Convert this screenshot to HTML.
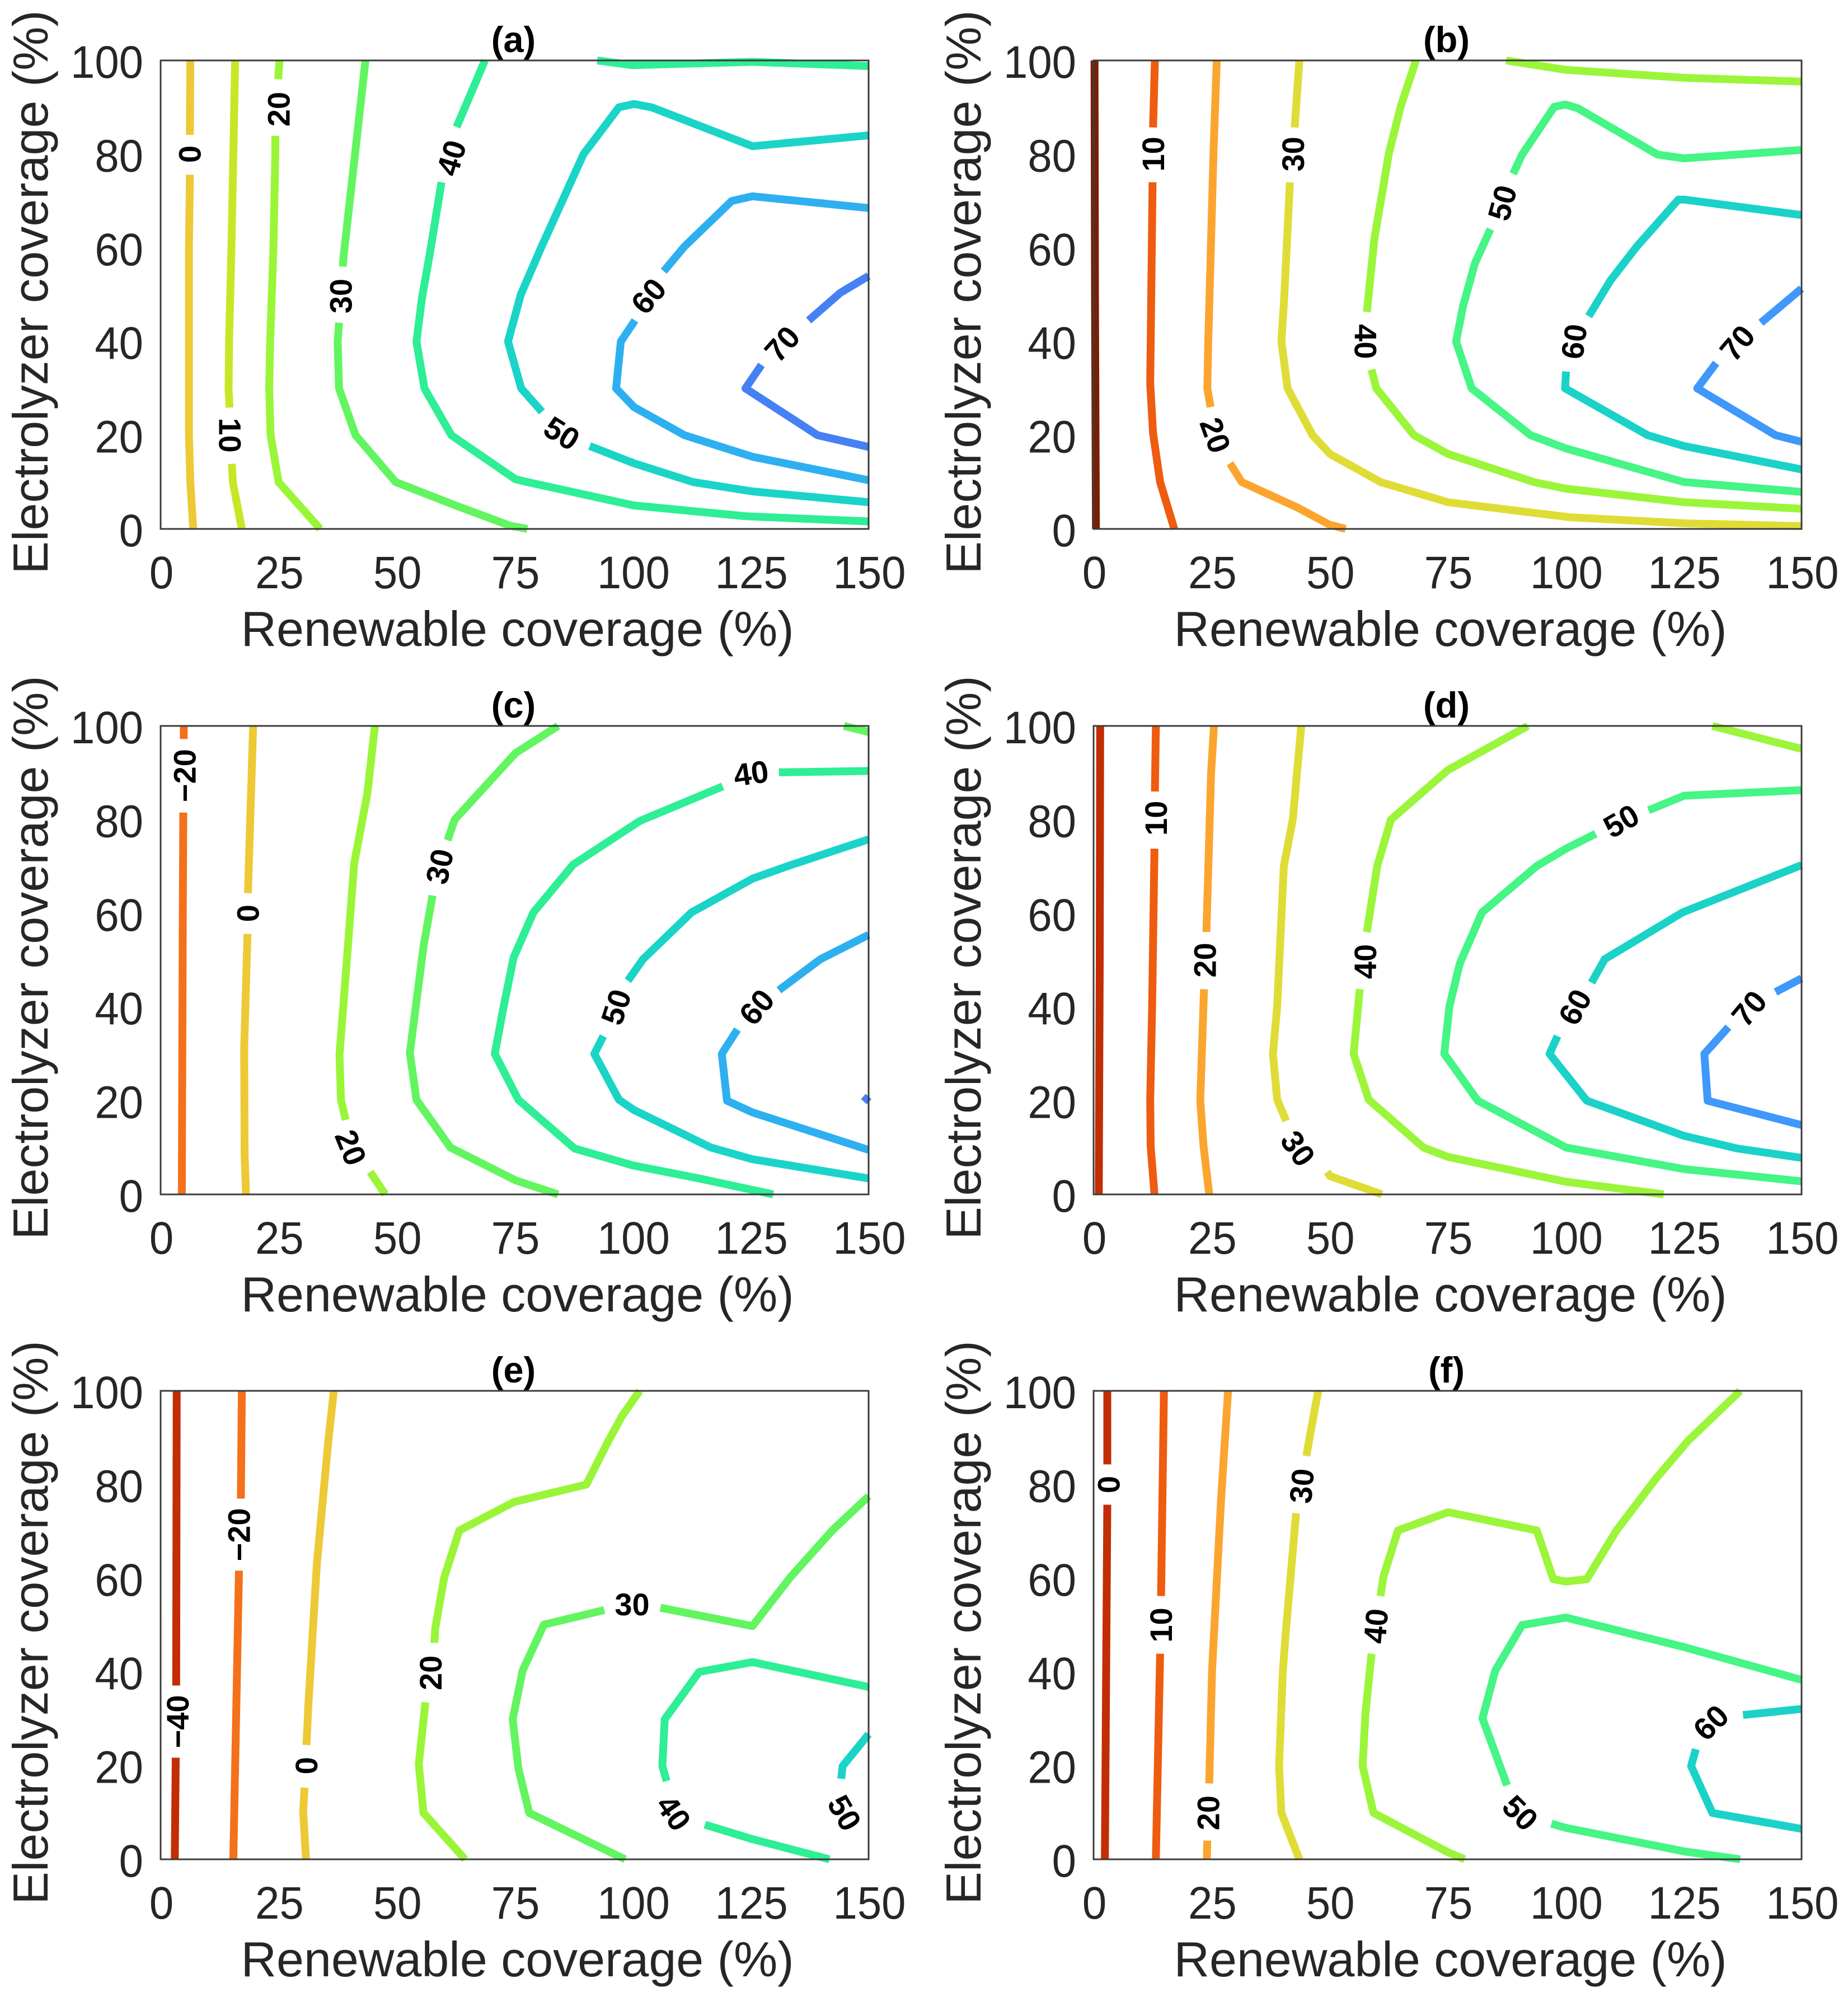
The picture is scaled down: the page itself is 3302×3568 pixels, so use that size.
<!DOCTYPE html>
<html lang="en">
<head>
<meta charset="utf-8">
<title>Contour charts of renewable and electrolyzer coverage</title>
<style>
  html, body { margin: 0; padding: 0; background: #fff; }
  #figure { display: block; width: 3302px; height: 3568px; font-family: "Liberation Sans", Arial, sans-serif; }
</style>
</head>
<body>
<svg id="figure" xmlns="http://www.w3.org/2000/svg" width="3302" height="3568" viewBox="0 0 3302 3568"></svg>
<script>
// Tick labels
const xTickValues = [0, 25, 50, 75, 100, 125, 150];
const yTickValues = [0, 20, 40, 60, 80, 100];

// Panel (a)
const panelALevels = [0, 10, 20, 30, 40, 40, 50, 60, 70];
const panelAPaths = [
  [[6.3,100],[6.2,84.1],null,[6.2,75.6],[6,60],[6,40],[6,20],[6.3,10],[6.9,0]],
  [[15.8,100],[15.4,80],[15,60],[14.5,40],[14.4,30],[14.6,25.9],null,[15.1,13.9],[15.3,10],[17.2,0]],
  [[25.2,100],[24.9,96],null,[24.3,83.9],[24.3,80],[23.9,60],[23.2,40],[23,30],[23.3,20],[25,10],[33.8,0]],
  [[43.4,100],[41.3,81],[38.8,58.5],[38.6,56],null,[37.8,44],[37.5,40],[37.8,30],[41.3,20],[49.8,10],[62.5,5],[74,0.7],[77.7,0]],
  [[68.7,100],[63.9,88.6],[62.7,85.8],null,[59.5,74],[57,58.5],[55.4,49.5],[54.2,40],[55.9,30],[61.6,20],[75.2,10.6],[77.7,10],[100.3,5],[124,2.7],[150,1.6]],
  [[92.5,100],[100,99],[125.4,99.7],[150,98.8]],
  [[150,84],[125.4,81.7],[104,90],[100.3,90.7],[97.1,90],[89.6,80],[80.6,60],[76.3,50],[73.6,40],[76.4,30],[80.8,25],null,[90.9,17.7],[100.3,14],[112.8,10],[125.4,8],[150,5.7]],
  [[150,68.5],[125.4,71],[121,70],[111,60.3],[106.6,55],null,[100.5,44.5],[97.5,40],[96.5,30],[100.3,26],[111,20],[125.4,15.4],[150,10.4]],
  [[150,54],[144,50.4],[137.3,44.5],null,[127.3,35],[123.9,30],[139.2,20],[150,17.5]]
];
const panelALabels = [[0,6.15,80,-90],[10,14.7,20,90],[20,25,89.6,-90],[30,38.2,49.7,-90],[40,61.6,79.2,-73],[50,85,20.4,32],[60,103.4,49.7,-50],[70,131.7,39.5,-48]];

// Panel (b)
const panelBLevels = [0, 10, 20, 30, 40, 40, 50, 60, 70];
const panelBPaths = [
  [[0.2,100],[0.3,50],[0.5,0]],
  [[13,100],[12.6,85.7],null,[12.5,74],[12,31],[12.6,20.4],[14.1,10],[17.1,0]],
  [[26.1,100],[25.4,80],[24.3,40],[24.1,30],[24.8,26],null,[28.9,14],[31.4,10],[43.3,4.5],[50,0.9],[53.4,0]],
  [[43.6,100],[42.6,85.7],null,[41.6,74],[40.4,49.5],[39.8,40],[41.1,30],[46.4,20],[50.1,16],[60.8,10],[75.1,5.7],[100.8,2.5],[125.1,1.2],[150,0.6]],
  [[68.3,100],[65.1,90.3],[62.6,80.3],[59.5,62],[57.9,46.3],null,[58.9,34],[59.9,30],[67.9,20],[75.1,16],[93.3,10],[100,8.6],[125.1,5.7],[150,4.3]],
  [[87.4,100],[100,98],[125.1,96.3],[150,95.5]],
  [[150,80.9],[125.1,79.1],[119.5,79.9],[102.6,89.8],[100,90.6],[97.6,90.1],[90.8,79.9],[88.9,75.8],null,[84.1,64],[80.8,56.7],[78.3,47.6],[76.8,40],[80.1,30],[92.6,20],[100,17.2],[125.1,10],[150,7.9]],
  [[150,67],[125.1,70.3],[123.9,70.3],[115.1,60.3],[109.5,53],[104.9,45.4],null,[100.1,33.6],[99.9,30],[117.4,20],[125.1,17.7],[150,12.7]],
  [[150,51.3],[141.4,44],null,[131.9,35.4],[127.9,30],[144.5,20],[150,18.6]]
];
const panelBLabels = [[10,12.6,80,-90],[20,25.8,20,70],[30,42.3,80,-90],[40,57.6,40,90],[50,86.6,69.6,-75],[60,101.8,40,-82],[70,136.4,39.7,-50]];

// Panel (c)
const panelCLevels = [-20, 0, 20, 30, 30, 40, 50, 60, 70];
const panelCPaths = [
  [[4.9,100],[4.9,97.2],null,[4.8,81.5],[4.7,60],[4.5,0]],
  [[19.6,100],[18.5,64.3],null,[18.4,55.6],[17.7,31],[17.8,8.4],[18.1,0]],
  [[45.4,100],[43.8,85.6],[41,70.6],[39.4,49.3],[37.9,29.8],[38.2,20.2],[39.2,15.9],null,[44.4,4.8],[47.6,0]],
  [[84.2,100],[75.2,94.2],[62.3,80],[60.8,75.6],null,[57.6,63.8],[55.7,52.9],[52.8,30.2],[54.2,20.2],[61.4,10],[75.2,3],[84.2,0]],
  [[144.8,100],[150,98.7]],
  [[150,90.4],[131,90.1],null,[119.1,87.1],[101.5,79.7],[87.4,70.4],[79,60.2],[74.8,50.6],[72.7,40.2],[70.8,30],[75.8,20.2],[87.7,9.8],[100,6.2],[114.1,3.4],[129.8,0]],
  [[150,75.8],[132.9,70.1],[125.4,67.4],[112.5,60.2],[102.2,50.2],[99,45.6],null,[93.8,33.8],[91.9,30],[97.1,20.2],[100.3,18],[116.6,10],[125.4,7.5],[150,3.4]],
  [[150,55.4],[139.8,50.2],[131,43.6],null,[122.2,35.2],[118.9,30],[120,20],[125.4,17.5],[150,9.5]],
  [[149,19.8],[150,20.9]]
];
const panelCLabels = [[-20,5.1,89.4,-90],[0,18.5,60,-90],[20,40.3,10,68],[30,59.1,70,-78],[40,125.1,89.9,-8],[50,96.5,40,-72],[60,126.3,40,-50]];

// Panel (d)
const panelDLevels = [0, 10, 20, 30, 40, 40, 50, 60, 70];
const panelDPaths = [
  [[1.4,100],[1.3,50],[1.1,0]],
  [[13.2,100],[13,86],null,[12.9,73.8],[12.4,40],[12,20.2],[12.1,10.3],[12.9,0]],
  [[25.5,100],[24.9,90],[23.9,56],null,[23.4,43.8],[22.6,20],[23.3,10.3],[24.5,0]],
  [[44,100],[42.2,80],[40.3,70],[38.9,40.2],[38,30],[38.9,20.2],[40.8,15.7],null,[49.5,4.8],[50.1,3.9],[61.1,0]],
  [[92,100],[75.1,90.6],[63,80],[60.1,70.1],[57.9,56],null,[56.4,43.8],[55.1,30],[58.3,20.2],[69.9,10],[75.1,8],[100.1,2.7],[120.8,0]],
  [[131.1,100],[150,95.1]],
  [[150,86.3],[125.1,85.1],[117.6,82],null,[106.4,77],[100.1,73.8],[93.9,70.1],[82.3,60.2],[77.6,49.3],[75.4,40.2],[74.3,30],[81.4,20],[100.1,10],[125.1,5.4],[150,2.8]],
  [[150,70.3],[124.8,60.2],[108.3,50.2],[105.5,45.2],null,[98.3,33.8],[96.6,30],[104.5,20],[125.1,12.5],[136.4,9.8],[150,7.8]],
  [[150,46.1],[144.5,43.2],null,[134.5,35.7],[129.4,30],[130.1,20],[150,14.8]]
];
const panelDLabels = [[10,13.2,80.3,-90],[20,23.6,50,-90],[30,43.3,9.8,55],[40,57.6,49.7,-90],[50,111.8,79.7,-30],[60,102,40,-62],[70,138.9,39.7,-50]];

// Panel (e)
const panelELevels = [-40, -20, 0, 20, 30, 40, 50];
const panelEPaths = [
  [[3.4,100],[3.3,37.1],null,[3.2,21.7],[3,0]],
  [[17.2,100],[17,77],null,[16.6,61.6],[15.4,0]],
  [[36.7,100],[35.6,90],[33.1,63],[31.3,33],[30.9,24.4],null,[30.5,15.3],[30.2,10.3],[30.8,0]],
  [[101.5,100],[97.8,94.7],[94.6,88.8],[90.2,80],[74.9,76.3],[63.3,70.2],[60.1,60.2],[58.2,49.4],[58,46.2],null,[56.1,33.5],[54.7,20.3],[55.7,9.9],[64.5,0]],
  [[150,77.5],[142.3,70.2],[133.5,60.3],[125.4,49.8],[105.9,53.7],null,[94,53.2],[81.2,50.1],[76.7,40.3],[74.6,29.9],[75.8,19.4],[78.1,9.9],[98.4,0]],
  [[150,36.8],[125.4,42.1],[114.1,40],[106.8,29.9],[106.3,19.9],[107.2,16.7],null,[115.3,7.4],[125.4,4.3],[141.7,0]],
  [[150,26.7],[144.5,19.9],[144.2,17.2]]
];
const panelELabels = [[-40,3.6,29.4,-90],[-20,16.6,69.3,-90],[0,30.9,20,-90],[20,57.2,39.8,-90],[30,99.9,54.4,0],[40,108.7,9.9,55],[50,144.9,9.9,60]];

// Panel (f)
const panelFLevels = [0, 10, 20, 30, 40, 50, 60];
const panelFPaths = [
  [[2.9,100],[2.9,84.3],null,[2.9,75.7],[2.4,0]],
  [[14.9,100],[14.3,56.2],null,[14.1,43.9],[13.2,0]],
  [[28.5,100],[27,76.6],[25.1,40.3],[24.5,16.2],null,[24.1,4],[24,0]],
  [[47.6,100],[45.8,90.2],[45.1,86.1],null,[42.9,73.9],[40.8,49.4],[40.1,40.3],[39.3,19.9],[39.8,9.9],[43.6,0]],
  [[137,100],[125.9,89.3],[119,81.1],[110.8,70.2],[104.5,59.8],[100.1,59.3],[97.4,59.8],[93.9,70.2],[75.1,74.1],[64.5,70.2],[61.4,60.3],[60.8,56.2],null,[58.9,43.9],[57.6,31.2],[57,19.9],[59.3,9.9],[75.1,1.5],[78.6,0]],
  [[150,38.3],[125.1,45.3],[100.1,51.6],[90.8,50],[85.1,40.3],[82.4,30.1],[87.6,15.8],null,[97,7.6],[100.1,6.7],[125.1,1.7],[137,0]],
  [[150,32.1],[137.6,30.8],null,[127.6,23.5],[126.6,19.9],[131.1,9.9],[150,6.5]]
];
const panelFLabels = [[0,3.2,80,-90],[10,14.3,50,-90],[20,24.3,9.9,-90],[30,44.1,79.7,-85],[40,59.8,49.8,-85],[50,90.4,9.9,45],[60,130.8,29.2,-45]];

// Colour tables (level to colour)
const paletteCool = {'-40':'#C22D04','-20':'#F5701A',0:'#EEC936',10:'#C8E628',20:'#9AF538',30:'#62F560',40:'#2EEE96',50:'#1AD4C8',60:'#2EB0F0',70:'#4680F5'};
const paletteWarm = {0:'#C22D04',10:'#EE5C10',20:'#FBA52F',30:'#E0DC36',40:'#9BF53A',50:'#45F585',60:'#1AD2C8',70:'#3F98FA'};
const paletteWarmDark = {0:'#7A1E06',10:'#EE5C10',20:'#FBA52F',30:'#E0DC36',40:'#9BF53A',50:'#45F585',60:'#1AD2C8',70:'#3F98FA'};

const panels = [
  {id:'a', left:287, top:108, levels:panelALevels, paths:panelAPaths, labels:panelALabels, colors:paletteCool},
  {id:'b', left:1954, top:108, levels:panelBLevels, paths:panelBPaths, labels:panelBLabels, colors:paletteWarmDark},
  {id:'c', left:287, top:1297, levels:panelCLevels, paths:panelCPaths, labels:panelCLabels, colors:paletteCool},
  {id:'d', left:1954, top:1297, levels:panelDLevels, paths:panelDPaths, labels:panelDLabels, colors:paletteWarm},
  {id:'e', left:287, top:2485, levels:panelELevels, paths:panelEPaths, labels:panelELabels, colors:paletteCool},
  {id:'f', left:1954, top:2485, levels:panelFLevels, paths:panelFPaths, labels:panelFLabels, colors:paletteWarm}
];

const PLOT_W = 1265, PLOT_H = 837, X_MAX = 150, Y_MAX = 100;
const TICK_SQUEEZE = 0.95;
const NS = 'http://www.w3.org/2000/svg';
const figure = document.getElementById('figure');

function make(tag, parent, attrs, text) {
  const el = document.createElementNS(NS, tag);
  for (const k in attrs) el.setAttribute(k, attrs[k]);
  if (text !== undefined) el.textContent = text;
  parent.appendChild(el);
  return el;
}

panels.forEach(function (p) {
  const xScale = function (v) { return p.left + v / X_MAX * PLOT_W; };
  const yScale = function (v) { return p.top + PLOT_H - v / Y_MAX * PLOT_H; };

  const g = make('g', figure, {});
  
  

  // contour lines
  p.paths.forEach(function (pts, i) {
    let d = '', pen = false;
    pts.forEach(function (pt) {
      if (pt === null) { pen = false; return; }
      d += (pen ? 'L' : 'M') + xScale(pt[0]).toFixed(1) + ' ' + yScale(pt[1]).toFixed(1);
      pen = true;
    });
    const line = make('path', g, {d: d, fill: 'none', stroke: p.colors[p.levels[i]], 'stroke-width': 14, 'stroke-linejoin': 'round', 'stroke-linecap': 'butt'});
    
    
  });

  // plot frame
  const frame = make('rect', g, {x: p.left, y: p.top, width: PLOT_W, height: PLOT_H, fill: 'none', stroke: '#3c3c3c', 'stroke-width': 3});
  
  

  // contour labels
  p.labels.forEach(function (l) {
    const lx = xScale(l[1]), ly = yScale(l[2]);
    const t = make('text', g, {x: lx, y: ly, 'text-anchor': 'middle', 'dominant-baseline': 'central', 'font-size': 56, 'font-weight': 'bold', fill: '#000', transform: 'rotate(' + l[3] + ' ' + lx + ' ' + ly + ')'}, String(l[0]).replace('-', '\u2212'));
    
    
  });

  // x tick labels
  xTickValues.forEach(function (v) {
    const tx = xScale(v) + 1.5, ty = p.top + PLOT_H + 106;
    const t = make('text', g, {x: 0, y: 0, 'text-anchor': 'middle', 'font-size': 82, fill: '#262626', transform: 'translate(' + tx + ' ' + ty + ') scale(' + TICK_SQUEEZE + ' 1)'}, String(v));
    
    
  });

  // y tick labels
  yTickValues.forEach(function (v) {
    const tx = p.left - 31, ty = yScale(v) + 31;
    const t = make('text', g, {x: 0, y: 0, 'text-anchor': 'end', 'font-size': 82, fill: '#262626', transform: 'translate(' + tx + ' ' + ty + ') scale(' + TICK_SQUEEZE + ' 1)'}, String(v));
    
    
  });

  // axis titles
  const xTitle = make('text', g, {x: p.left + PLOT_W / 2 + 5, y: p.top + PLOT_H + 209, 'text-anchor': 'middle', 'font-size': 88, fill: '#262626'}, 'Renewable coverage (%)');
  
  

  const yx = p.left - 202, yy = p.top + 414;
  const yTitle = make('text', g, {x: yx, y: yy, 'text-anchor': 'middle', 'font-size': 88, fill: '#262626', transform: 'rotate(-90 ' + yx + ' ' + yy + ')'}, 'Electrolyzer coverage (%)');
  
  

  // panel title
  const title = make('text', g, {x: p.left + PLOT_W / 2 - 2, y: p.top - 15, 'text-anchor': 'middle', 'font-size': 65, 'font-weight': 'bold', fill: '#000'}, '(' + p.id + ')');
  
  
});
</script>
</body>
</html>
